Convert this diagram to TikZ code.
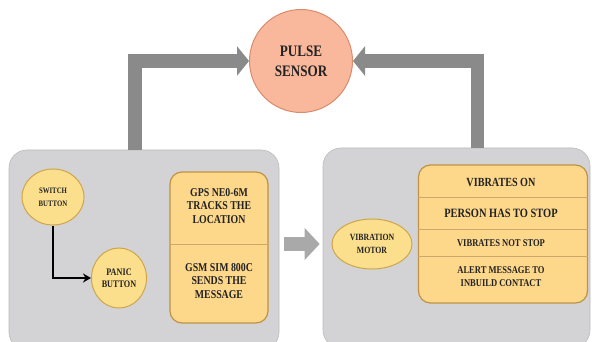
\documentclass[tikz,border=0pt]{standalone}
\usepackage{fontspec}
\setmainfont{Liberation Serif}
\usepackage{xcolor,graphicx}
\usetikzlibrary{positioning, shapes.geometric, arrows.meta}
\definecolor{panel}{HTML}{D3D3D5}
\definecolor{pulsefill}{HTML}{F9B79C}
\definecolor{pulseedge}{HTML}{D98B6C}
\definecolor{btnfill}{HTML}{FCDF8C}
\definecolor{btnedge}{HTML}{CFA548}
\definecolor{boxfill}{HTML}{FDD78A}
\definecolor{boxedge}{HTML}{BF9245}
\definecolor{pipegrey}{HTML}{8A8A8A}
\definecolor{midgrey}{HTML}{A9A9A9}
\definecolor{ink}{HTML}{222222}
\newcommand{\cnd}[1]{\scalebox{0.82}[1]{#1}}

\begin{document}
\begin{tikzpicture}[x=1pt, y=-1pt,
    fs/.style 2 args={font={\bfseries\fontsize{#1}{#2}\selectfont}},
    panelbox/.style={draw=panel!88!black, line width=0.6pt, fill=panel, rounded corners=18pt, inner sep=0pt},
    btn/.style={ellipse, draw=btnedge, line width=1pt, fill=btnfill, inner sep=0pt, align=center, text=ink},
    listbox/.style={draw=boxedge, line width=1.2pt, fill=boxfill, rounded corners=12pt, inner sep=0pt},
    sep/.style={draw=boxedge!80, line width=0.7pt},
    txt/.style={align=center, text=ink, inner sep=0pt},
    pipe/.style={draw=pipegrey, line width=13.5pt, -{Triangle[width=29pt,length=12pt]}}]
  \useasboundingbox (0,0) rectangle (592,342);
  \clip (0,0) rectangle (592,342);

  % panels
  \node[panelbox, minimum width=270pt, minimum height=200pt] (l) at (144,250) {};
  \node[panelbox, minimum width=267pt, minimum height=200pt] (r) at (456.5,248) {};

  % pulse sensor
  \node[circle, draw=pulseedge, line width=1pt, fill=pulsefill, minimum size=103pt, txt, fs={16}{20}] (p) at (301,61) {\cnd{PULSE}\\\cnd{SENSOR}};
  \draw[pipe] ([xshift=-9pt]l.north) |- (p.west);
  \draw[pipe] ([xshift=21pt]r.north) |- (p.east);

  % left panel
  \node[btn, minimum width=62pt, minimum height=56pt, fs={8.3}{13}] (s) at (53,197) {\cnd{SWITCH}\\\cnd{BUTTON}};
  \node[btn, minimum width=55pt, minimum height=60pt, fs={10}{12}] (b) at (119,278) {\cnd{PANIC}\\\cnd{BUTTON}};
  \draw[line width=1.6pt, -{Stealth[length=8pt,width=9pt]}] (s.south) |- (b.west);

  \node[listbox, minimum width=98pt, minimum height=151pt] (g) at (219,247.5) {};
  \coordinate (gd) at (0,244);
  \draw[sep] (g.west |- gd) -- (g.east |- gd);
  \node[txt, fs={12}{13.5}] (g1) at (219,206) {\cnd{GPS NE0-6M}\\\cnd{TRACKS THE}\\\cnd{LOCATION}};
  \node[txt, fs={12}{13.5}] (g2) at (219,281) {\cnd{GSM SIM 800C}\\\cnd{SENDS THE}\\\cnd{MESSAGE}};

  % right panel
  \node[btn, minimum width=80pt, minimum height=50pt, fs={9.5}{13}] (m) at (372,244) {\cnd{VIBRATION}\\\cnd{MOTOR}};
  \draw[line width=14pt, midgrey, -{Triangle[width=31pt,length=15pt]}] ([xshift=5pt]l.east |- m) -- ([xshift=-3pt]r.west |- m);

  \node[listbox, minimum width=169pt, minimum height=138pt] (v) at (503,234) {};
  \foreach \yy in {197,229,256} {
    \coordinate (d) at (0,\yy);
    \draw[sep] (v.west |- d) -- (v.east |- d);
  }
  \node[txt, fs={12.4}{14}] (v1) at (501,182) {\cnd{VIBRATES ON}};
  \node[txt, fs={12.7}{14}] (v2) at (501,213) {\cnd{PERSON HAS TO STOP}};
  \node[txt, fs={10.4}{13}] (v3) at (501,243) {\cnd{VIBRATES NOT STOP}};
  \node[txt, fs={10.4}{13}] (v4) at (501,276.5) {\cnd{ALERT MESSAGE TO}\\\cnd{INBUILD CONTACT}};
\end{tikzpicture}
\end{document}
